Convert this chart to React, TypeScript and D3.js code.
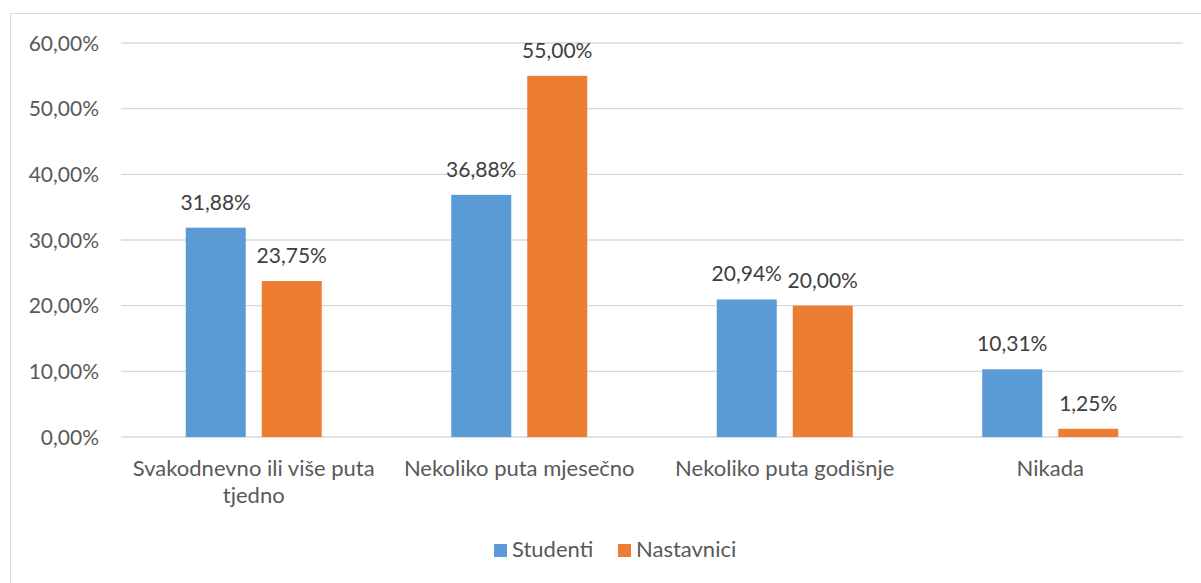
import React from "react";
import * as d3 from "d3";

const categories = ["Svakodnevno ili više puta tjedno", "Nekoliko puta mjesečno", "Nekoliko puta godišnje", "Nikada"];
const categoryLines = [["Svakodnevno ili više puta", "tjedno"], ["Nekoliko puta mjesečno"], ["Nekoliko puta godišnje"], ["Nikada"]];
const seriesNames = ["Studenti", "Nastavnici"];
const studenti = [31.88, 36.88, 20.94, 10.31];
const nastavnici = [23.75, 55.0, 20.0, 1.25];
const yTicks = [0, 10, 20, 30, 40, 50, 60];
const colors = ["#5B9BD5", "#ED7D31"];

const W = 1201, H = 583;
const FONT = "Lato, 'Open Sans', sans-serif";
const fmt = (v: number) => v.toFixed(2).replace(".", ",") + "%";

export default function App() {
  const x = d3.scaleBand<string>().domain(categories).range([121, 1183]);
  const y = d3.scaleLinear().domain([0, 60]).range([437, 43]);
  const barW = 60;
  const gap = 16;
  const series = [studenti, nastavnici];
  return (
    <svg width={W} height={H} style={{ position: "absolute", left: 0, top: 0 }} fontFamily={FONT}>
      <rect x={0} y={0} width={W} height={H} fill="#fff" />
      <rect x={10.5} y={13.5} width={W + 10} height={H} fill="none" stroke="#D9D9D9" strokeWidth={1} />
      {yTicks.map((t) => (
        <g key={t}>
          <line x1={121} x2={1183} y1={y(t)} y2={y(t)} stroke="#D9D9D9" strokeWidth={1.3} />
          <text x={99} y={y(t)} dy="0.36em" textAnchor="end" fontSize={21} fill="#595959">{fmt(t)}</text>
        </g>
      ))}
      {series.map((vals, si) =>
        vals.map((v, i) => {
          const cx = x(categories[i])! + x.bandwidth() / 2;
          const bx = si === 0 ? cx - gap / 2 - barW : cx + gap / 2;
          return (
            <g key={si + "-" + i}>
              <rect x={bx} y={y(v)} width={barW} height={y(0) - y(v)} fill={colors[si]} />
              <text x={bx + barW / 2} y={y(v) - 18} textAnchor="middle" fontSize={21} fill="#404040">{fmt(v)}</text>
            </g>
          );
        })
      )}
      {categories.map((c, i) => (
        <text key={c} x={x(c)! + x.bandwidth() / 2} textAnchor="middle" fontSize={22} fill="#595959">
          {categoryLines[i].map((l, li) => (
            <tspan key={li} x={x(c)! + x.bandwidth() / 2} y={476 + li * 27}>{l}</tspan>
          ))}
        </text>
      ))}
      <g>
        <rect x={494} y={544} width={13} height={13} fill={colors[0]} />
        <text x={512} y={557} fontSize={22} fill="#595959">{seriesNames[0]}</text>
        <rect x={618} y={544} width={13} height={13} fill={colors[1]} />
        <text x={636} y={557} fontSize={22} fill="#595959">{seriesNames[1]}</text>
      </g>
    </svg>
  );
}
